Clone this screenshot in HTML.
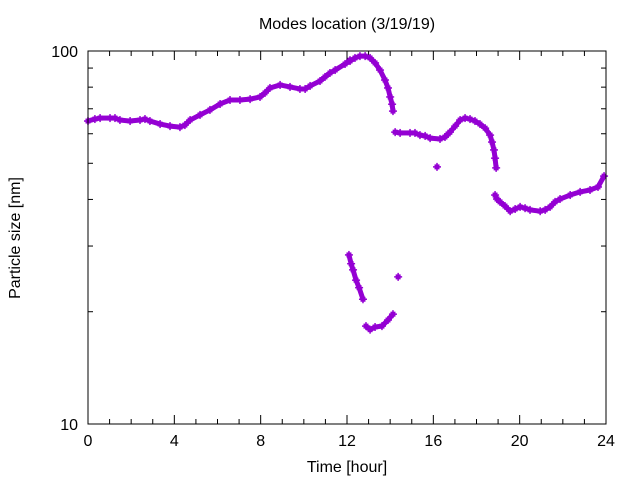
<!DOCTYPE html>
<html><head><meta charset="utf-8"><style>
body{margin:0;background:#fff}
svg text{font-family:"Liberation Sans",sans-serif;font-size:16px;fill:#000}
</style></head><body>
<svg id="chart" width="640" height="480" viewBox="0 0 640 480">
<rect width="640" height="480" fill="#fff"/>
<text x="347" y="29" text-anchor="middle" font-size="15">Modes location (3/19/19)</text>
<text x="347" y="472" text-anchor="middle">Time [hour]</text>
<text transform="translate(20,238) rotate(-90)" text-anchor="middle">Particle size [nm]</text>
<g id="axes"></g>
<g id="marks"></g>
<rect x="88" y="51" width="518" height="373" fill="none" stroke="#000" stroke-width="1"/>
</svg>
<script>
const xTicks=[0,4,8,12,16,20,24];
const yTicks=[10,100];
const mainHours=[0,.32,.56,1.02,1.25,1.48,1.95,2.41,2.64,2.87,3.34,3.80,4.26,4.49,4.73,5.19,5.65,6.12,6.58,7.04,7.51,7.97,8.20,8.43,8.90,9.36,9.82,10.06,10.29,10.75,10.98,11.21,11.45,11.91,12.14,12.37,12.60,12.84,13.07,13.30,13.53,13.76,13.90,14.00,14.09,14.13];
const mainSize=[64.9,65.7,66.1,66.1,66.1,65.3,64.9,65.3,65.7,64.9,63.7,62.9,62.5,63.3,65.3,67.4,69.5,72.1,73.9,73.9,74.3,75.3,77.2,79.6,81.1,80.1,79.1,79.1,80.6,83.1,85.2,87.3,88.9,92.3,94.0,95.8,96.9,96.9,95.8,92.9,88.9,83.6,79.6,75.3,72.0,69.0];
const midHours=[14.23,14.46,14.92,15.15,15.38,15.62,15.85,16.31,16.54,16.68,16.77,17.01,17.24,17.47,17.70,17.93,18.16,18.40,18.63,18.72,18.81,18.86,18.91];
const midSize=[60.6,60.3,60.3,60.3,59.5,59.2,58.4,58.1,58.8,59.9,60.6,62.9,65.3,66.1,65.7,64.9,63.7,62.1,59.5,57.0,54.3,51.6,48.6];
const lateHours=[18.86,18.95,19.09,19.32,19.56,19.79,20.02,20.25,20.48,20.95,21.18,21.41,21.64,21.87,22.34,22.80,23.26,23.63,23.91];
const lateSize=[41.1,40.1,39.4,38.4,37.2,37.7,38.2,37.9,37.5,37.2,37.5,38.2,39.4,40.1,41.1,41.9,42.4,43.2,46.2];
const lowHours=[12.09,12.19,12.28,12.42,12.56,12.74,12.88,13.07,13.30,13.62,13.90,14.13];
const lowSize=[28.4,26.9,25.9,24.3,23.2,21.6,18.3,17.9,18.2,18.3,19.0,19.7];
const outHours=[16.17,14.37,12.14];
const outSize=[48.9,24.8,94.5];

const X0=88,X1=606,Y0=424,Y1=51;
const xs=h=>X0+(h/24)*(X1-X0);
const ys=v=>Y0-(Math.log10(v)-1)*(Y0-Y1);
const NS='http://www.w3.org/2000/svg';
const axes=document.getElementById('axes'),marks=document.getElementById('marks');
function line(p,x1,y1,x2,y2,c,w){const l=document.createElementNS(NS,'line');l.setAttribute('x1',x1);l.setAttribute('y1',y1);l.setAttribute('x2',x2);l.setAttribute('y2',y2);l.setAttribute('stroke',c);l.setAttribute('stroke-width',w);p.appendChild(l);return l;}
for(let h=0;h<=24;h++){const x=xs(h),L=h%4===0?9:5;
 const t=line(axes,x,Y0,x,Y0-L,'#000',1);
 
 
 const t2=line(axes,x,Y1,x,Y1+L,'#000',1);
 
 }
xTicks.forEach(h=>{const t=document.createElementNS(NS,'text');t.setAttribute('x',xs(h));t.setAttribute('y',446);t.setAttribute('text-anchor','middle');t.textContent=h;
 
 
 axes.appendChild(t);});
for(let v=10;v<=100;v+=10){const y=ys(v),L=(v===10||v===100)?9:5;
 const a=line(axes,X0,y,X0+L,y,'#000',1);
 
 
 const b=line(axes,X1,y,X1-L,y,'#000',1);
 
 }
yTicks.forEach(v=>{const t=document.createElementNS(NS,'text');t.setAttribute('x',78);t.setAttribute('y',ys(v)+6);t.setAttribute('text-anchor','end');t.textContent=v;
 
 
 axes.appendChild(t);});
const C='#9400d3';
function marker(x,y){const g=document.createElementNS(NS,'g');
 
 
 const r=document.createElementNS(NS,'rect');r.setAttribute('x',x-2.5);r.setAttribute('y',y-2.5);r.setAttribute('width',5);r.setAttribute('height',5);r.setAttribute('fill',C);g.appendChild(r);
 line(g,x-4,y,x+4,y,C,1.5);line(g,x,y-4,x,y+4,C,1.5);marks.appendChild(g);}
function series(H,V,name){let prev=null;
 H.forEach((h,i)=>{const x=xs(h),y=ys(V[i]);
  if(prev&&Math.hypot(x-prev[0],y-prev[1])<14){const l=line(marks,prev[0],prev[1],x,y,C,5);
   
   }
  prev=[x,y];});
 H.forEach((h,i)=>marker(xs(h),ys(V[i])));}
series(mainHours,mainSize,'main-mode');
series(midHours,midSize,'mid-mode');
series(lateHours,lateSize,'late-mode');
series(lowHours,lowSize,'low-mode');
outHours.forEach((h,i)=>marker(xs(h),ys(outSize[i])));
</script>
</body></html>
